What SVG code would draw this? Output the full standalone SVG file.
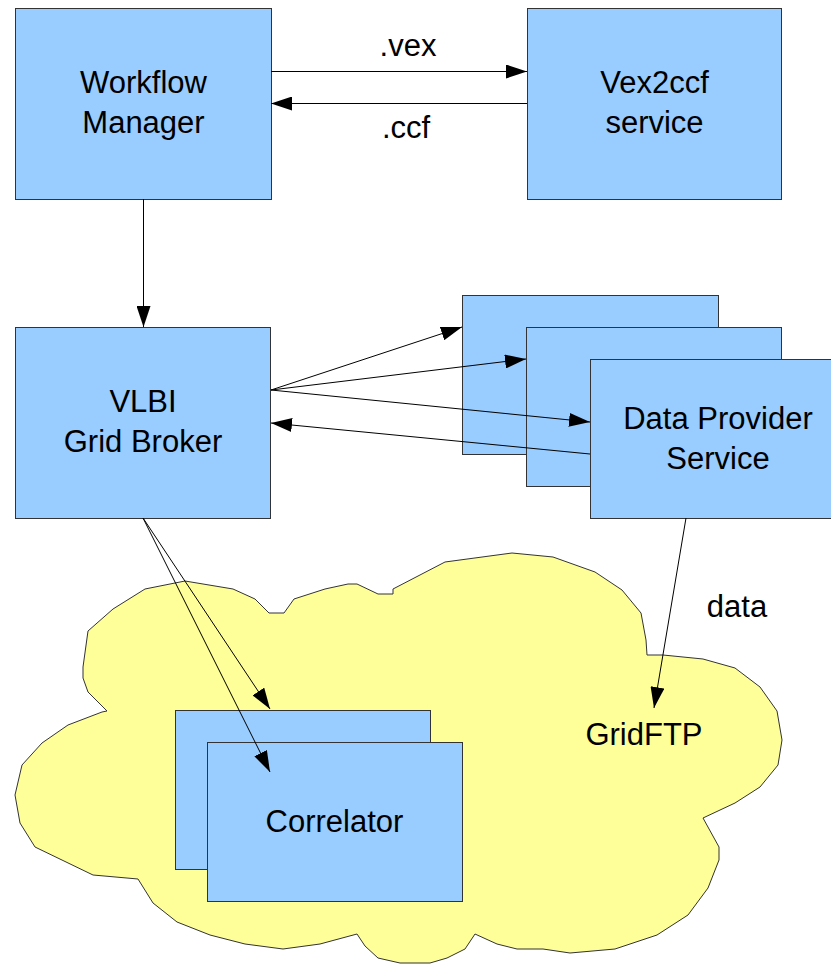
<svg xmlns="http://www.w3.org/2000/svg" width="831" height="964" viewBox="0 0 831 964">
<style>
.box{fill:#99ccff;stroke:#333;stroke-width:1}
.cloud{fill:#ffff99;stroke:#333;stroke-width:1}
.lbl{font-family:"Liberation Sans",Arial,sans-serif;font-size:31px;fill:#000;text-anchor:middle}
.con{stroke:#000;stroke-width:1;fill:none;marker-end:url(#arr)}
</style>
<defs>
<marker id="arr" markerUnits="userSpaceOnUse" markerWidth="21" markerHeight="14" refX="21" refY="7" orient="auto">
<path d="M0,0 L21,7 L0,14 Z" fill="#000"/>
</marker>
</defs>
<rect width="831" height="964" fill="#fff"/>
<g id="cloud">
<polygon class="cloud" points="185,581 233,589 255,599 269,613 284,613 294,599 325,589 348,584 357,584 378,594 393,594 393,589 445,562 512,553 553,557 595,572 622,590 641,613 646,640 647,655 663,655 703,659 735,668 760,687 777,711 782,740 778,765 760,787 735,803 703,818 719,847 719,860 708,888 688,915 657,935 615,949 570,953 543,949 517,949 497,944 475,934 465,949 447,958 430,963 400,963 378,958 365,946 357,934 320,944 283,949 245,944 210,935 177,922 153,903 138,879 93,875 35,847 20,823 15,795 22,765 42,743 68,725 102,712 107,711 88,692 83,678 83,667 88,631 113,609 145,589"/>
<text class="lbl" x="644" y="745">GridFTP</text>
</g>
<g id="workflow">
<rect class="box" x="15.5" y="8.5" width="256" height="191"/>
<text class="lbl" x="143.5" y="93">Workflow</text>
<text class="lbl" x="143.5" y="133">Manager</text>
</g>
<g id="vex2ccf">
<rect class="box" x="527.5" y="8.5" width="254" height="191"/>
<text class="lbl" x="654.5" y="93">Vex2ccf</text>
<text class="lbl" x="654.5" y="133">service</text>
</g>
<g id="broker">
<rect class="box" x="15.5" y="327.5" width="255" height="191"/>
<text class="lbl" x="143" y="412">VLBI</text>
<text class="lbl" x="143" y="452">Grid Broker</text>
</g>
<g id="dp1"><rect class="box" x="462.5" y="295.5" width="256" height="159"/></g>
<g id="dp2"><rect class="box" x="526.5" y="327.5" width="255" height="159"/></g>
<g id="dp3">
<rect class="box" x="590.5" y="359.5" width="256" height="159"/>
<text class="lbl" x="718" y="429">Data Provider</text>
<text class="lbl" x="718" y="469">Service</text>
</g>
<g id="corr1"><rect class="box" x="175.5" y="710.5" width="255" height="159"/></g>
<g id="corr2">
<rect class="box" x="207.5" y="742.5" width="255" height="159"/>
<text class="lbl" x="334.5" y="832">Correlator</text>
</g>
<g id="connectors">
<line class="con" x1="271" y1="71.5" x2="527" y2="71.5"/>
<text class="lbl" x="408" y="56">.vex</text>
<line class="con" x1="527" y1="103.5" x2="271" y2="103.5"/>
<text class="lbl" x="406" y="138">.ccf</text>
<line class="con" x1="143.5" y1="199" x2="143.5" y2="327"/>
<line class="con" x1="271" y1="390" x2="462" y2="327"/>
<line class="con" x1="271" y1="390" x2="526" y2="359"/>
<line class="con" x1="271" y1="390" x2="590" y2="422"/>
<line class="con" x1="590" y1="454" x2="271" y2="423"/>
<line class="con" x1="143" y1="518" x2="270" y2="709"/>
<line class="con" x1="143" y1="518" x2="270" y2="772"/>
<line class="con" x1="686" y1="518" x2="654" y2="708"/>
<text class="lbl" x="737" y="617">data</text>
</g>
</svg>
